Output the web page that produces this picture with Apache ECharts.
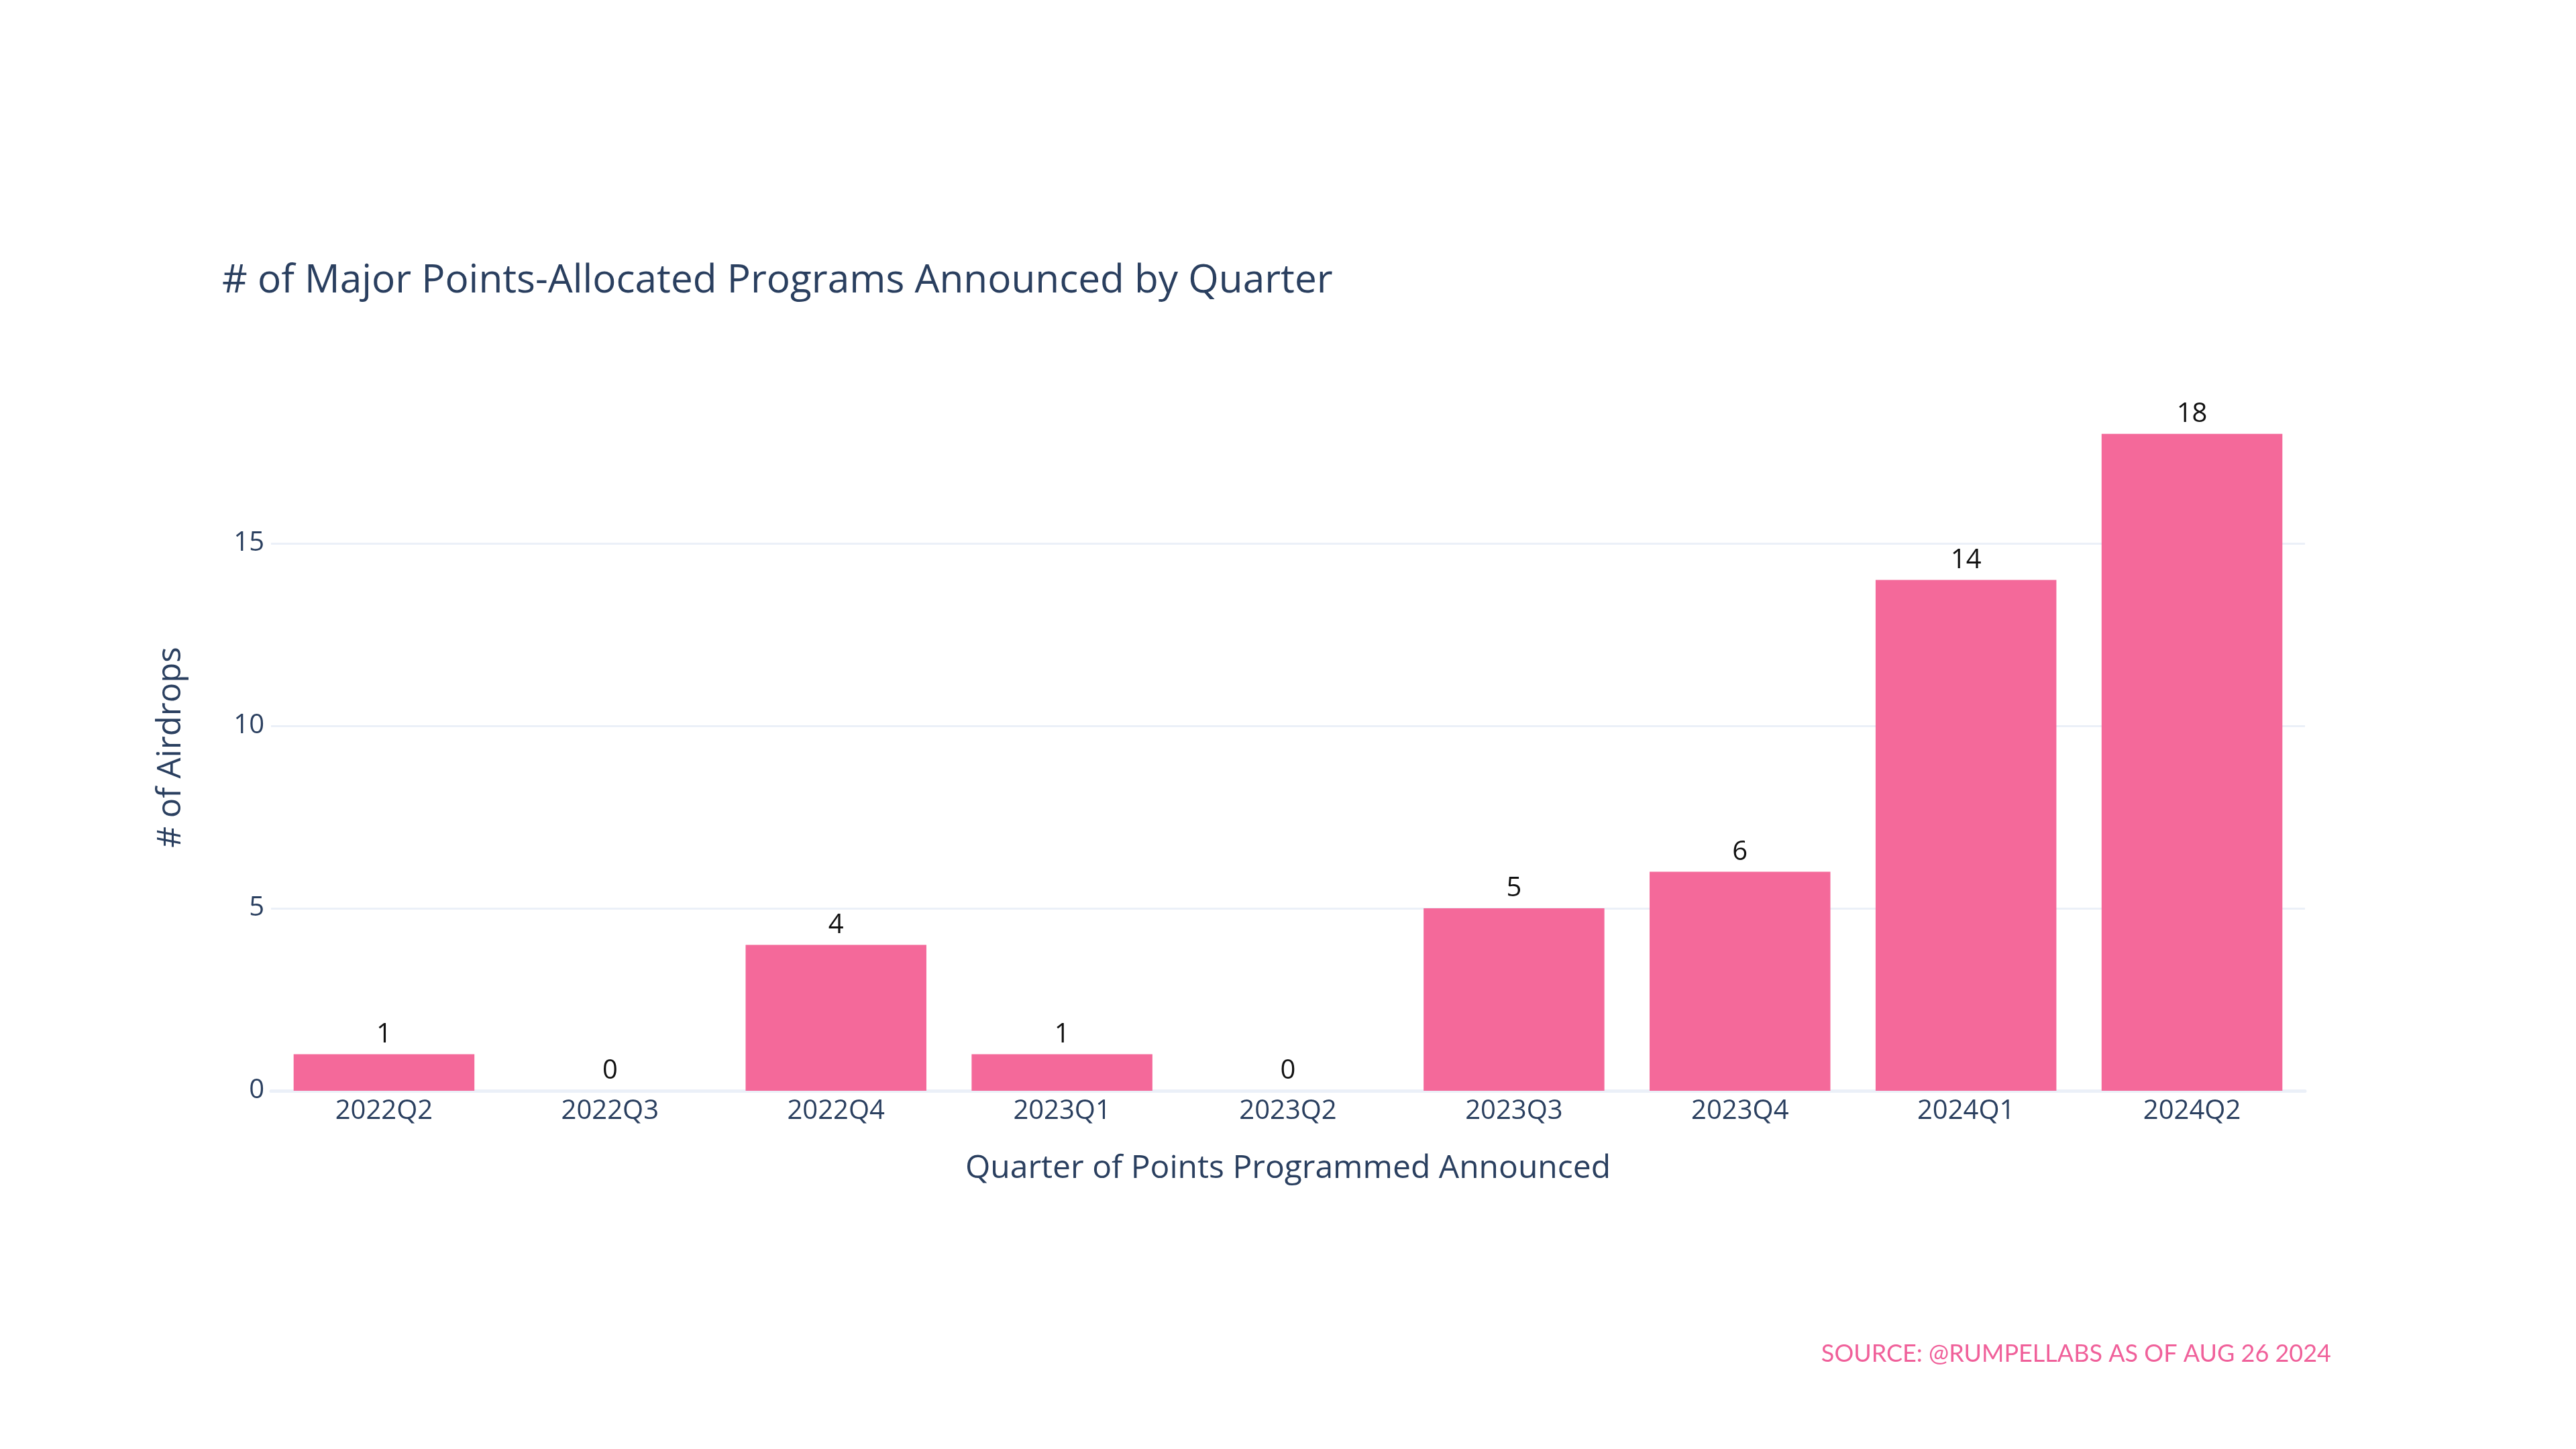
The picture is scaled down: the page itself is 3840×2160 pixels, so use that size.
<!DOCTYPE html>
<html>
<head>
<meta charset="utf-8">
<script src="https://cdn.jsdelivr.net/npm/echarts@6/dist/echarts.min.js"></script>
<style>
html,body{margin:0;padding:0;background:#fff;}
#chart{width:3840px;height:2160px;}
</style>
</head>
<body>
<div id="chart"></div>
<script>
const categories = ['2022Q2','2022Q3','2022Q4','2023Q1','2023Q2','2023Q3','2023Q4','2024Q1','2024Q2'];
const airdrops = [1, 0, 4, 1, 0, 5, 6, 14, 18];
const yTicks = [0, 5, 10, 15];

const titleText = '# of Major Points-Allocated Programs Announced by Quarter';
const sourceText = 'SOURCE: @RUMPELLABS AS OF AUG 26 2024';
const xName = 'Quarter of Points Programmed Announced';
const yName = '# of Airdrops';

const font = '"Open Sans", verdana, arial, sans-serif';
const ink = '#2a3f5f';
const grid = '#EBF0F8';

const chart = echarts.init(document.getElementById('chart'));
chart.setOption({
  backgroundColor: '#ffffff',
  animation: false,
  title: [
    {
      text: titleText,
      left: 326,
      top: 383,
      textStyle: { fontFamily: font, fontSize: 58.5, fontWeight: 'normal', color: ink, lineHeight: 62 }
    },
    {
      text: sourceText,
      right: 360,
      top: 1995,
      textStyle: { fontFamily: 'Lato, "Open Sans", sans-serif', fontSize: 36, fontWeight: 'normal', color: '#F0609A', lineHeight: 36 }
    }
  ],
  grid: { left: 404, right: 404, top: 538, bottom: 534, containLabel: false },
  xAxis: {
    type: 'category',
    data: categories,
    name: xName,
    nameLocation: 'middle',
    nameGap: 92,
    nameTextStyle: { fontFamily: font, fontSize: 48, color: ink },
    axisLine: { show: true, lineStyle: { color: grid, width: 5 } },
    axisTick: { show: false },
    axisLabel: { fontFamily: font, fontSize: 40, color: ink, margin: 11 }
  },
  yAxis: {
    type: 'value',
    min: 0,
    max: 20,
    interval: 5,
    name: yName,
    nameLocation: 'middle',
    nameGap: 124,
    nameRotate: 90,
    nameTextStyle: { fontFamily: font, fontSize: 49, color: ink, padding: [0, 64, 0, 0] },
    axisLine: { show: false },
    axisTick: { show: false },
    axisLabel: {
      fontFamily: font, fontSize: 40, color: ink, margin: 10,
      formatter: function (v) { return yTicks.indexOf(v) >= 0 ? String(v) : ''; }
    },
    splitLine: { show: true, lineStyle: { color: [grid, grid, grid, grid, 'rgba(0,0,0,0)'], width: 3 } }
  },
  series: [{
    type: 'bar',
    data: airdrops,
    barCategoryGap: '20%',
    itemStyle: { color: '#F4699A' },
    label: {
      show: true,
      position: 'top',
      distance: 9,
      fontFamily: font,
      fontSize: 40,
      color: '#111111'
    }
  }]
});
</script>
</body>
</html>
